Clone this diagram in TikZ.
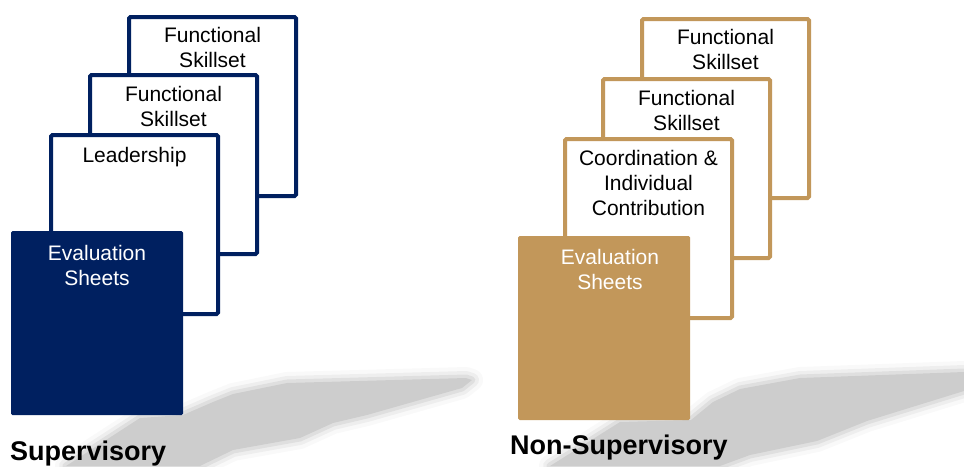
\documentclass[tikz,border=0pt]{standalone}
\usepackage{fontspec}
\setmainfont{Liberation Sans}
\usepackage{tikz}
\usetikzlibrary{positioning}
\definecolor{supblue}{RGB}{0,32,96}
\definecolor{nonsupgold}{RGB}{194,151,90}
\definecolor{shadowgray}{RGB}{205,205,205}
\tikzset{
  sheet/.style      = {draw, fill=white, line width=4pt, rounded corners=1.5pt,
                       minimum width=167pt, minimum height=179pt, anchor=north west},
  bluesheet/.style  = {sheet, draw=supblue},
  goldsheet/.style  = {sheet, draw=nonsupgold},
  frontsheet/.style = {rounded corners=1.5pt, minimum width=172pt, minimum height=184pt,
                       inner sep=0pt, outer sep=0pt, anchor=north west},
  sheettext/.style  = {align=center, inner sep=2pt, font=\fontsize{21}{25}\selectfont},
  grouptitle/.style = {inner sep=0pt, anchor=base west, font=\bfseries\fontsize{27}{30}\selectfont},
  floorshadow/.style = {fill=shadowgray, line join=round,
                        preaction={draw=shadowgray, line width=22pt, opacity=0.12, line join=round},
                        preaction={draw=shadowgray, line width=14pt, opacity=0.25, line join=round},
                        preaction={draw=shadowgray, line width=7pt, opacity=0.45, line join=round}},
}
\begin{document}
\begin{tikzpicture}[x=1pt, y=-1pt]
      \useasboundingbox (0,0) rectangle (964,466);

      % shadows on the floor
      \path[floorshadow] (66,466) -- (140,418) -- (183,415) -- (213,402) -- (233,394)
        -- (287,383) -- (466,378) -- (472,380) -- (462,388) -- (367,415) -- (333,423)
        -- (300,438) -- (233,450) -- (200,466) -- cycle;
      \path[floorshadow] (550,466) -- (620,422) -- (691,420) -- (713,402) -- (740,389)
        -- (800,378) -- (964,372) -- (964,391) -- (867,421) -- (817,441) -- (750,455)
        -- (720,466) -- cycle;

      % supervisory stack
      \node[bluesheet] (sfunctwo) at (127,15) {};
      \node[bluesheet] (sfuncone) at ([shift={(-39,58)}]sfunctwo.north west) {};
      \node[bluesheet] (slead) at ([shift={(-39,60)}]sfuncone.north west) {};
      \node[frontsheet, fill=supblue] (seval) at ([shift={(-38,98)}]slead.north west) {};

      \node[sheettext, below=10pt of sfunctwo.north] (sfunctwotext) {Functional\\Skillset};
      \node[sheettext, below=11pt of sfuncone.north] (sfunconetext) {Functional\\Skillset};
      \node[sheettext, below=12pt of slead.north] (sleadtext) {Leadership};
      \node[sheettext, text=white, below=12pt of seval.north] (sevaltext) {Evaluation\\Sheets};
      \node[grouptitle] (suptitle) at ([shift={(-1,45)}]seval.south west) {Supervisory};

      % non-supervisory stack
      \node[goldsheet] (nfunctwo) at (640,17) {};
      \node[goldsheet] (nfuncone) at ([shift={(-39,60)}]nfunctwo.north west) {};
      \node[goldsheet] (ncoord) at ([shift={(-38,60)}]nfuncone.north west) {};
      \node[frontsheet, fill=nonsupgold] (neval) at ([shift={(-45,99)}]ncoord.north west) {};

      \node[sheettext, below=10pt of nfunctwo.north] (nfunctwotext) {Functional\\Skillset};
      \node[sheettext, below=11pt of nfuncone.north] (nfunconetext) {Functional\\Skillset};
      \node[sheettext, below=11pt of ncoord.north] (ncoordtext) {Coordination \&\\Individual\\Contribution};
      \node[sheettext, text=white, below=11pt of neval.north, xshift=6pt] (nevaltext) {Evaluation\\Sheets};
      \node[grouptitle] (nonsuptitle) at ([shift={(-8,34)}]neval.south west) {Non-Supervisory};
\end{tikzpicture}
\end{document}
